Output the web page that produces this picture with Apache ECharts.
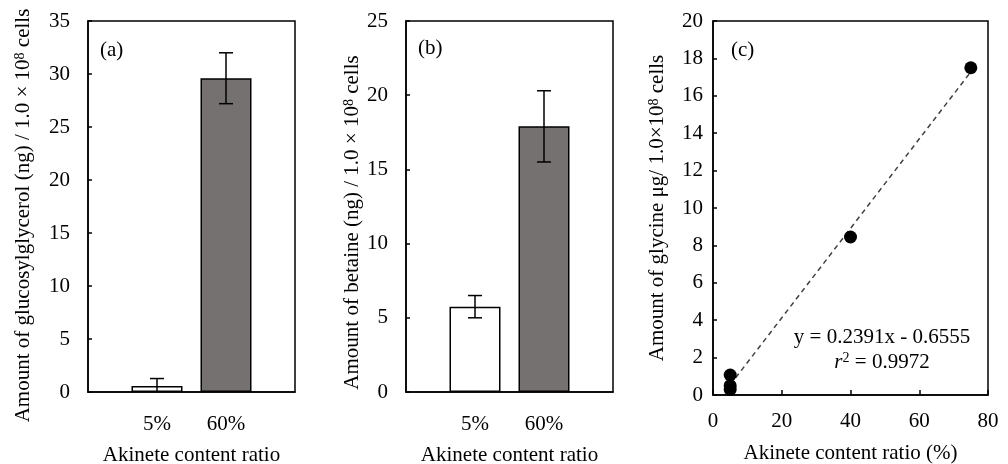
<!DOCTYPE html>
<html>
<head>
<meta charset="utf-8">
<script src="https://cdn.jsdelivr.net/npm/echarts@6/dist/echarts.min.js"></script>
<style>
  html, body { margin: 0; padding: 0; background: #fff; }
  #main { width: 1008px; height: 464px; }
</style>
</head>
<body>
<div id="main"></div>
<script type="application/javascript">
// bar panels (a) and (b)
const ratioCats = ['', '5%', '60%', ''];
const glucosylValues = [0.57, 29.6];
const glucosylErrors = [0.7, 2.4];
const betaineValues = [5.75, 17.9];
const betaineErrors = [0.75, 2.4];
const barColors = ['#ffffff', '#767171'];

// scatter panel (c)
const akineteRatio = [5, 5, 5, 40, 75];
const glycineAmount = [1.07, 0.5, 0.3, 8.45, 17.5];
const trendX = [5, 75];
const trendY = [0.54, 17.28];

const FONT = '"Liberation Serif", "Times New Roman", serif';
const FS = 21;
const supRich = { sup: { fontSize: 14, verticalAlign: 'top', fontFamily: FONT } };

const chart = echarts.init(document.getElementById('main'));

function errorItem(params, api) {
  const x = api.value(0), v = api.value(1), e = api.value(2);
  const hi = api.coord([x, v + e]);
  const lo = api.coord([x, Math.max(0, v - e)]);
  const half = 7;
  const style = { stroke: '#000', lineWidth: 1.5 };
  const children = [
    { type: 'line', shape: { x1: hi[0], y1: hi[1], x2: lo[0], y2: lo[1] }, style },
    { type: 'line', shape: { x1: hi[0] - half, y1: hi[1], x2: hi[0] + half, y2: hi[1] }, style }
  ];
  if (v - e > 0) {
    children.push({ type: 'line', shape: { x1: lo[0] - half, y1: lo[1], x2: lo[0] + half, y2: lo[1] }, style });
  }
  return { type: 'group', children };
}

function barData(values) {
  return values.map((v, i) => ({
    value: [i + 1, v],
    itemStyle: { color: barColors[i] }
  }));
}
function errData(values, errs) {
  return values.map((v, i) => [i + 1, v, errs[i]]);
}

function catAxis(idx) {
  return {
    type: 'category', gridIndex: idx, data: ratioCats, boundaryGap: false,
    name: 'Akinete content ratio', nameLocation: 'middle', nameGap: 53, nameMoveOverlap: false,
    nameTextStyle: { fontFamily: FONT, fontSize: FS, color: '#000' },
    axisLine: { lineStyle: { color: '#000', width: 1.5 } },
    axisTick: { show: false },
    axisLabel: { fontFamily: FONT, fontSize: FS, color: '#000', margin: 22, interval: 0 },
    splitLine: { show: false }
  };
}
function valAxis(idx, max, interval, name, margin, gap, shift) {
  return {
    type: 'value', gridIndex: idx, min: 0, max, interval,
    name, nameLocation: 'middle', nameGap: gap, nameMoveOverlap: false,
    nameTextStyle: { fontFamily: FONT, fontSize: FS, color: '#000', rich: supRich, padding: [0, shift, 0, 0] },
    axisLine: { show: true, lineStyle: { color: '#000', width: 1.5 } },
    axisTick: { show: true, inside: true, length: 4, lineStyle: { color: '#000', width: 1.5 } },
    axisLabel: { fontFamily: FONT, fontSize: FS, color: '#000', margin },
    splitLine: { show: false }
  };
}

function gridBox(left, width, height) {
  return {
    left, top: 21, width, height, show: true,
    borderColor: '#000', borderWidth: 1.5,
    containLabel: false, outerBoundsMode: 'none'
  };
}

const option = {
  animation: false,
  backgroundColor: '#fff',
  grid: [gridBox(88, 207, 371), gridBox(406, 207, 371), gridBox(713, 275, 374)],
  xAxis: [
    catAxis(0),
    catAxis(1),
    {
      type: 'value', gridIndex: 2, min: 0, max: 80, interval: 20,
      name: 'Akinete content ratio (%)', nameLocation: 'middle', nameGap: 48, nameMoveOverlap: false,
      nameTextStyle: { fontFamily: FONT, fontSize: FS, color: '#000' },
      axisLine: { lineStyle: { color: '#000', width: 1.5 } },
      axisTick: { show: true, inside: true, length: 5, lineStyle: { color: '#000', width: 1.5 } },
      axisLabel: { fontFamily: FONT, fontSize: FS, color: '#000', margin: 16 },
      splitLine: { show: false }
    }
  ],
  yAxis: [
    valAxis(0, 35, 5, 'Amount of glucosylglycerol (ng) / 1.0 × 10{sup|8} cells', 18, 54, 18),
    valAxis(1, 25, 5, 'Amount of betaine (ng) / 1.0 × 10{sup|8} cells', 18, 43, 32),
    valAxis(2, 20, 2, 'Amount of glycine μg/ 1.0×10{sup|8} cells', 10, 45, 0)
  ],
  series: [
    {
      type: 'bar', xAxisIndex: 0, yAxisIndex: 0, barWidth: 51,
      itemStyle: { borderColor: '#000', borderWidth: 1.5 },
      data: barData(glucosylValues), z: 2
    },
    {
      type: 'custom', xAxisIndex: 0, yAxisIndex: 0, renderItem: errorItem,
      data: errData(glucosylValues, glucosylErrors), z: 3
    },
    {
      type: 'bar', xAxisIndex: 1, yAxisIndex: 1, barWidth: 51,
      itemStyle: { borderColor: '#000', borderWidth: 1.5 },
      data: barData(betaineValues), z: 2
    },
    {
      type: 'custom', xAxisIndex: 1, yAxisIndex: 1, renderItem: errorItem,
      data: errData(betaineValues, betaineErrors), z: 3
    },
    {
      type: 'line', xAxisIndex: 2, yAxisIndex: 2, symbol: 'none',
      lineStyle: { color: '#404040', width: 1.5, type: [5, 4] },
      data: trendX.map((x, i) => [x, trendY[i]]), z: 2
    },
    {
      type: 'scatter', xAxisIndex: 2, yAxisIndex: 2, symbol: 'circle', symbolSize: 13,
      itemStyle: { color: '#000', opacity: 1 },
      data: akineteRatio.map((x, i) => [x, glycineAmount[i]]), z: 3
    }
  ],
  graphic: [
    { type: 'text', left: 100, top: 40, style: { text: '(a)', font: FS + 'px ' + FONT, fill: '#000' } },
    { type: 'text', left: 418, top: 38, style: { text: '(b)', font: FS + 'px ' + FONT, fill: '#000' } },
    { type: 'text', left: 731, top: 40, style: { text: '(c)', font: FS + 'px ' + FONT, fill: '#000' } },
    {
      type: 'text', x: 882, y: 337,
      style: { text: 'y = 0.2391x - 0.6555', font: FS + 'px ' + FONT, fill: '#000', align: 'center', verticalAlign: 'middle' }
    },
    {
      type: 'text', x: 882, y: 362,
      style: {
        text: '{i|r}{sup|2} = 0.9972', font: FS + 'px ' + FONT, fill: '#000', align: 'center', verticalAlign: 'middle',
        rich: {
          i: { fontFamily: FONT, fontSize: FS, fontStyle: 'italic' },
          sup: { fontFamily: FONT, fontSize: 14, verticalAlign: 'top' }
        }
      }
    }
  ]
};

chart.setOption(option);
</script>
</body>
</html>
